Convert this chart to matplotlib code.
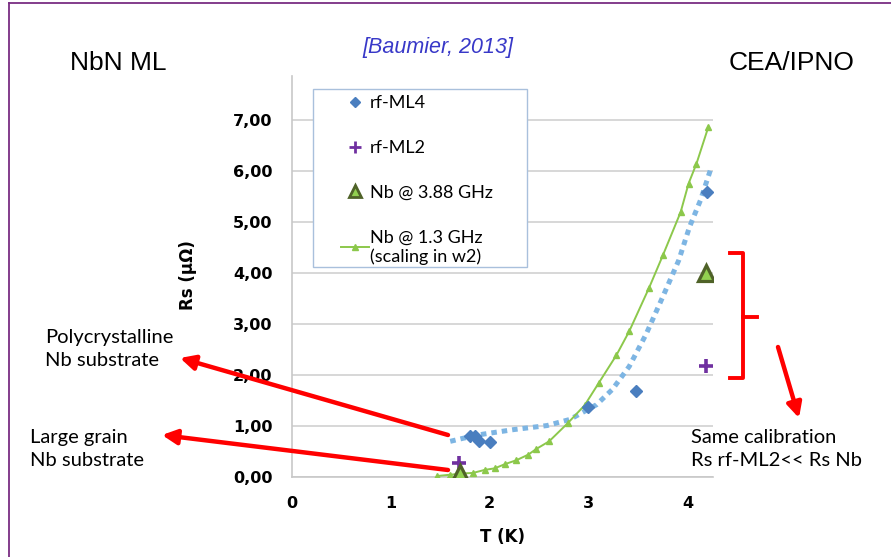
import numpy as np
import matplotlib
matplotlib.use('Agg')
from matplotlib import pyplot as plt
from matplotlib.lines import Line2D
from matplotlib.patches import FancyArrowPatch, Rectangle

# rf-ML4 (blue diamonds)
T_ml4 = [1.80, 1.85, 1.89, 2.00, 2.99, 3.48, 4.20]
Rs_ml4 = [0.81, 0.80, 0.71, 0.69, 1.38, 1.69, 5.59]
# rf-ML2 (purple crosses)
T_ml2 = [1.69, 4.19]
Rs_ml2 = [0.27, 2.18]
# Nb @ 3.88 GHz
T_nb388 = [1.70, 4.19]
Rs_nb388 = [0.08, 4.01]
# Nb @ 1.3 GHz (scaling in w2)
T_nb13 = [1.47, 1.60, 1.73, 1.83, 1.95, 2.05, 2.15, 2.27, 2.39, 2.47, 2.60,
          2.79, 2.96, 3.10, 3.28, 3.41, 3.61, 3.75, 3.93, 4.01, 4.09, 4.21]
Rs_nb13 = [0.02, 0.045, 0.07, 0.08, 0.14, 0.17, 0.25, 0.33, 0.44, 0.55, 0.70,
           1.06, 1.41, 1.84, 2.39, 2.86, 3.71, 4.35, 5.20, 5.76, 6.15, 6.87]
# dotted trend line through rf-ML4
T_fit = [1.60, 1.73, 1.93, 2.24, 2.58, 2.81, 3.08, 3.24, 3.41, 3.58, 3.75,
         3.91, 4.02, 4.13, 4.23, 4.26]
Rs_fit = [0.70, 0.76, 0.84, 0.93, 1.01, 1.13, 1.42, 1.72, 2.17, 2.80, 3.54,
          4.25, 4.91, 5.43, 6.02, 6.08]

yticks = [0, 1, 2, 3, 4, 5, 6, 7]
ytick_labels = ['0,00', '1,00', '2,00', '3,00', '4,00', '5,00', '6,00', '7,00']
xticks = [0, 1, 2, 3, 4]

W, H = 891, 557
def fp(x, y):
    # figure pixel (top-left origin) -> figure fraction
    return (x / W, 1 - y / H)

fig = plt.figure(figsize=(8.91, 5.57), dpi=100)
ax = fig.add_axes([292 / W, 1 - 477 / H, (713 - 292) / W, (477 - 76) / H])

ax.plot(T_fit, Rs_fit, color='#7db5e3', lw=3.6, linestyle=(0, (1.1, 1.0)),
        dash_capstyle='butt', zorder=2)
ax.plot(T_nb13, Rs_nb13, color='#8cc84b', lw=1.4, marker='^', ms=4, zorder=3)
ax.plot(T_ml4, Rs_ml4, 'D', color='#4a7ebf', ms=6.3, zorder=4, ls='none')
ax.plot(T_ml2, Rs_ml2, '+', color='#7030a0', ms=10, mew=2.6, zorder=5, ls='none')
ax.plot(T_nb388, Rs_nb388, '^', mfc='#92d050', mec='#4f6228', ms=12, mew=2.3,
        zorder=6, ls='none')

ax.set_xlim(0, 4.257)
ax.set_ylim(0, 7.87)
ax.set_yticks(yticks)
ax.set_yticklabels(ytick_labels)
ax.set_xticks(xticks)
ax.tick_params(length=0, labelsize=11.5, pad=14)
for lab in ax.get_xticklabels() + ax.get_yticklabels():
    lab.set_fontweight('bold')
ax.grid(axis='y', color='#d4d4d4', lw=1.3)
ax.set_axisbelow(True)
for s in ['top', 'right']:
    ax.spines[s].set_visible(False)
for s in ['left', 'bottom']:
    ax.spines[s].set_color('#c8c8c8')
    ax.spines[s].set_linewidth(1.2)
ax.set_ylabel('Rs (µΩ)', fontweight='bold', fontsize=12)
ax.yaxis.set_label_coords(-0.226, 0.504)
ax.set_xlabel('T (K)', fontweight='bold', fontsize=12, labelpad=12)

# legend
handles = [
    Line2D([], [], ls='none', marker='D', color='#4a7ebf', ms=5),
    Line2D([], [], ls='none', marker='+', color='#7030a0', ms=8, mew=2),
    Line2D([], [], ls='none', marker='^', mfc='#92d050', mec='#4f6228', ms=9, mew=2),
    Line2D([], [], color='#8cc84b', lw=1.4, marker='^', ms=4),
]
labels = ['rf-ML4', 'rf-ML2', 'Nb @ 3.88 GHz', 'Nb @ 1.3 GHz\n(scaling in w2)']
fig.add_artist(Rectangle(fp(313, 267), (527 - 313) / W, (267 - 89) / H,
                         transform=fig.transFigure, fill=True, facecolor='white',
                         edgecolor='#a9c0dc', lw=1, zorder=8))
leg = fig.legend(handles, labels, loc='upper left', bbox_to_anchor=fp(341, 95),
                 frameon=False, prop={'family': 'Lato', 'size': 13},
                 labelspacing=1.6, handlelength=1.55, handletextpad=0.05,
                 borderpad=0, borderaxespad=0)
leg.set_zorder(9)

# titles
narrow = ['Liberation Sans Narrow', 'Liberation Sans']
fig.text(*fp(70, 63), 'NbN ML', fontsize=19, family=narrow, va='center', ha='left')
fig.text(*fp(855, 63), 'CEA/IPNO', fontsize=19, family=narrow, va='center', ha='right')
fig.text(*fp(438, 48), '[Baumier, 2013]', fontsize=15.5, family=narrow,
         style='italic', color='#3838c8', va='center', ha='center')

# annotations
fig.text(*fp(45, 349), 'Polycrystalline\nNb substrate', fontsize=14.5, family='Lato',
         va='center', ha='left', linespacing=1.42)
fig.text(*fp(30, 449), 'Large grain\nNb substrate', fontsize=14.5, family='Lato',
         va='center', ha='left', linespacing=1.42)
fig.text(*fp(691, 449), 'Same calibration\nRs rf-ML2<< Rs Nb', fontsize=14.5,
         family='Lato', va='center', ha='left', linespacing=1.42)

for tail, head in [((448, 435), (180, 358)),
                   ((448, 470), (162, 435)),
                   ((778, 347), (799, 418))]:
    fig.add_artist(FancyArrowPatch(fp(*tail), fp(*head), transform=fig.transFigure,
                                   arrowstyle='-|>', mutation_scale=22, lw=3.2,
                                   color='#ff0000', shrinkA=0, shrinkB=0, zorder=10))

# bracket
bx = [730, 743, 743, 730]
by = [253, 253, 378, 378]
fig.add_artist(Line2D([x / W for x in bx], [1 - y / H for y in by],
                      transform=fig.transFigure, color='#ff0000', lw=2.8,
                      solid_joinstyle='round'))
fig.add_artist(Line2D([743 / W, 757 / W], [1 - 317 / H, 1 - 317 / H],
                      transform=fig.transFigure, color='#ff0000', lw=2.8))

# slide frame
fig.add_artist(Line2D([9 / W, 1], [1 - 3 / H, 1 - 3 / H], transform=fig.transFigure,
                      color='#7a2d82', lw=1.3))
fig.add_artist(Line2D([9 / W, 9 / W], [0, 1 - 3 / H], transform=fig.transFigure,
                      color='#7a2d82', lw=1.3))

fig.savefig('out.png', dpi=100)
